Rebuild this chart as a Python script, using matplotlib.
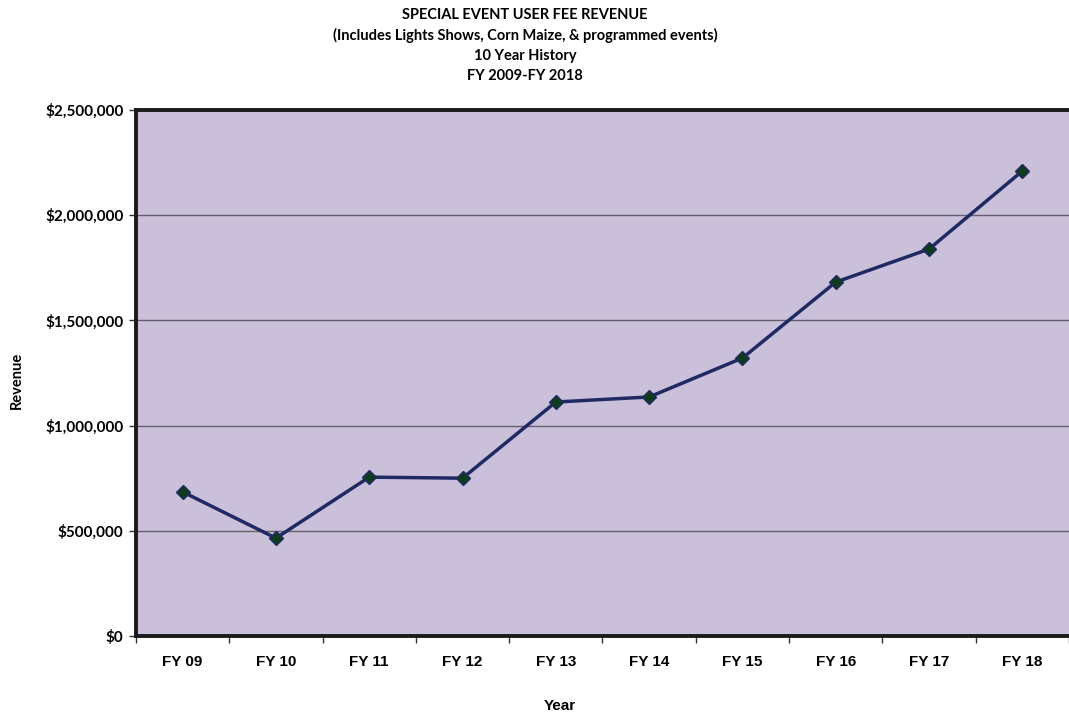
import matplotlib
matplotlib.use('Agg')
import matplotlib.pyplot as plt
from matplotlib.ticker import FuncFormatter, MultipleLocator, FixedLocator

# data
years   = ['FY 09', 'FY 10', 'FY 11', 'FY 12', 'FY 13', 'FY 14', 'FY 15', 'FY 16', 'FY 17', 'FY 18']
revenue = [685000, 465000, 755000, 750000, 1112000, 1136000, 1321000, 1682000, 1839000, 2210000]

title_lines = ['SPECIAL EVENT USER FEE REVENUE',
               '(Includes Lights Shows, Corn Maize, & programmed events)',
               '10 Year History',
               'FY 2009-FY 2018']

# figure
fig = plt.figure(figsize=(10.69, 7.17), dpi=100)
ax  = fig.add_axes([0.1272, 0.1130, 0.8728, 0.7336])
ax.set_facecolor('#cbc0da')

x = list(range(len(years)))
ax.plot(x, revenue, color='#1f2a63', linewidth=2.5, marker='D', markersize=7,
        markerfacecolor='#0e3a1e', markeredgecolor='#1f2a63', markeredgewidth=1, zorder=3)

ax.set_xlim(-0.5, len(years) - 0.5)
ax.set_ylim(0, 2500000)

ax.yaxis.set_major_locator(MultipleLocator(500000))
ax.yaxis.set_major_formatter(FuncFormatter(lambda v, p: '${:,.0f}'.format(v)))
ax.grid(axis='y', color='#635d6e', linewidth=1.0)
ax.set_axisbelow(True)

ax.set_xticks(x)
ax.set_xticklabels(years, fontfamily='Liberation Sans', fontweight='bold', fontsize=11)
ax.xaxis.set_minor_locator(FixedLocator([i - 0.5 for i in range(len(years) + 1)]))
ax.tick_params(axis='x', which='major', length=0, pad=14)
ax.tick_params(axis='x', which='minor', length=5, width=1, color='#333333', direction='out')
ax.tick_params(axis='y', length=5, width=1, color='#333333', direction='out', pad=4)
for lbl in ax.get_yticklabels():
    lbl.set_fontfamily('Lato')
    lbl.set_fontweight('bold')
    lbl.set_fontsize(11)

for side in ['left', 'top', 'bottom']:
    ax.spines[side].set_linewidth(2.8)
    ax.spines[side].set_color('#1a1a1a')
ax.spines['right'].set_visible(False)

# axis titles
fig.text(560 / 1069, 1 - 706 / 717, 'Year', ha='center', va='center',
         fontfamily='Liberation Sans', fontweight='bold', fontsize=11)
fig.text(0.016, 0.47, 'Revenue', rotation=90, ha='center', va='center',
         fontfamily='Lato', fontweight='bold', fontsize=10.5)

for i, line in enumerate(title_lines):
    fig.text(0.491, 1 - (15 + 20.5 * i) / 717, line, ha='center', va='center',
             fontfamily='Lato', fontweight='bold', fontsize=10.5)

fig.savefig('out.png', dpi=100)
